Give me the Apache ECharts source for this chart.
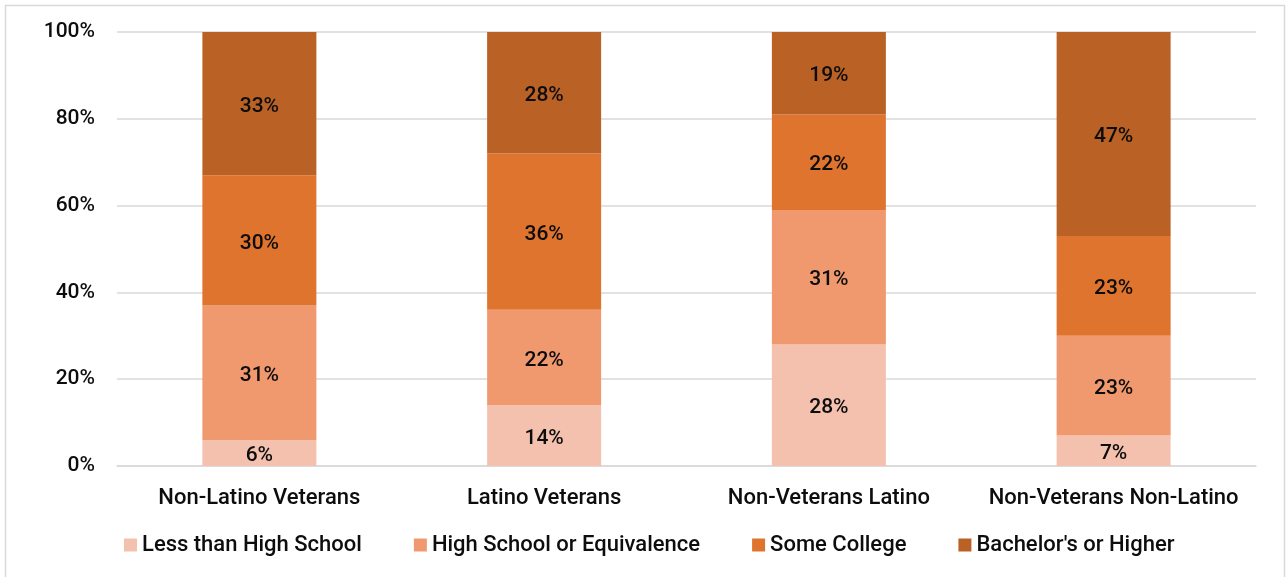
<!DOCTYPE html>
<html>
<head>
<meta charset="utf-8">
<title>Educational Attainment by Veteran Status and Ethnicity</title>
<script src="https://cdn.jsdelivr.net/npm/echarts@6/dist/echarts.min.js"></script>
<style>
  html, body { margin: 0; padding: 0; background: #ffffff; }
  #chart { width: 1286px; height: 577px; }
</style>
</head>
<body>
<div id="chart"></div>
<script>
// Population groups along the x axis
const categories = ['Non-Latino Veterans', 'Latino Veterans', 'Non-Veterans Latino', 'Non-Veterans Non-Latino'];

// Share of each group (%) by highest level of education
const lessThanHighSchool = [6, 14, 28, 7];
const highSchoolOrEquivalence = [31, 22, 31, 23];
const someCollege = [30, 36, 22, 23];
const bachelorsOrHigher = [33, 28, 19, 47];

// Y axis ticks
const yTicks = { min: 0, max: 100, interval: 20 };

const seriesDefs = [
  { name: 'Less than High School', data: lessThanHighSchool, color: '#F5C1AF' },
  { name: 'High School or Equivalence', data: highSchoolOrEquivalence, color: '#F0996F' },
  { name: 'Some College', data: someCollege, color: '#DF742E' },
  { name: "Bachelor's or Higher", data: bachelorsOrHigher, color: '#BA6125' }
];

const FONT = 'Roboto, "Liberation Sans", Arial, sans-serif';
const TEXT = '#0d0d0d';

const chart = echarts.init(document.getElementById('chart'), null, { renderer: 'canvas' });

chart.setOption({
  backgroundColor: '#ffffff',
  animation: false,
  textStyle: { fontFamily: FONT },
  graphic: [{
    type: 'rect',
    shape: { x: 5.5, y: 5.5, width: 1279, height: 580 },
    style: { fill: 'none', stroke: '#D9D9D9', lineWidth: 1.5 },
    silent: true,
    z: -1
  }],
  grid: { left: 117, right: 30, top: 32, bottom: 111, containLabel: false },
  legend: {
    data: seriesDefs.map(s => s.name),
    left: 119,
    top: 529,
    itemWidth: 13,
    itemHeight: 13,
    itemGap: 52,
    icon: 'rect',
    textStyle: { fontFamily: FONT, fontSize: 22, fontWeight: 500, color: TEXT }
  },
  xAxis: {
    type: 'category',
    data: categories,
    axisLine: { show: true, lineStyle: { color: '#D9D9D9', width: 1.5 } },
    axisTick: { show: false },
    axisLabel: { interval: 0, margin: 21, fontFamily: FONT, fontSize: 22, fontWeight: 500, color: TEXT }
  },
  yAxis: {
    type: 'value',
    min: yTicks.min,
    max: yTicks.max,
    interval: yTicks.interval,
    axisLine: { show: false },
    axisTick: { show: false },
    axisLabel: { margin: 22, fontFamily: FONT, fontSize: 21, fontWeight: 500, color: TEXT, formatter: '{value}%' },
    splitLine: { lineStyle: { color: '#D9D9D9', width: 1.5 } }
  },
  series: seriesDefs.map(s => ({
    name: s.name,
    type: 'bar',
    stack: 'total',
    barWidth: 114,
    data: s.data,
    itemStyle: { color: s.color },
    label: {
      show: true,
      position: 'inside',
      offset: [0, 3],
      formatter: p => Math.round(p.value) + '%',
      fontFamily: FONT,
      fontSize: 21,
      fontWeight: 500,
      color: TEXT
    }
  }))
});
</script>
</body>
</html>
